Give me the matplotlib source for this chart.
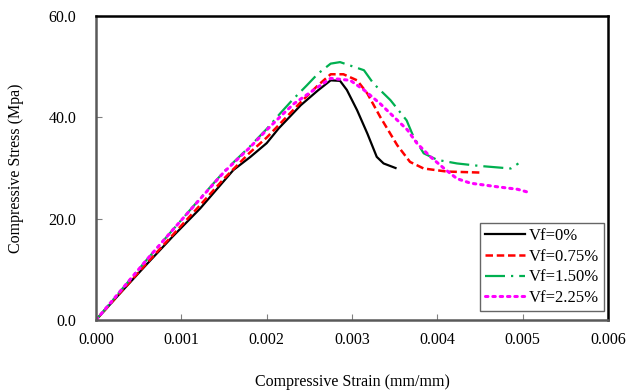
import matplotlib
matplotlib.use("Agg")
import matplotlib.pyplot as plt

plt.rcParams['font.family'] = ['Liberation Serif', 'DejaVu Serif']

labels = ["Vf=0%", "Vf=0.75%", "Vf=1.50%", "Vf=2.25%"]

strain_0 = [0.0, 0.0003, 0.0006, 0.0009, 0.00122, 0.00161, 0.00181, 0.0020, 0.00214, 0.0024, 0.0026,
            0.00275, 0.00286, 0.00294, 0.00306, 0.00318, 0.00329, 0.00337, 0.00351]
stress_0 = [0.0, 5.6, 11.1, 16.5, 22.0, 29.6, 32.2, 34.9, 37.8, 42.4, 45.3,
            47.3, 47.2, 45.4, 41.4, 36.8, 32.2, 30.9, 30.0]

strain_1 = [0.0, 0.0003, 0.0006, 0.0009, 0.0012, 0.0015, 0.0018, 0.0020, 0.0022, 0.0024, 0.0026,
            0.00275, 0.0029, 0.00306, 0.00318, 0.00333, 0.00353, 0.00368, 0.00384, 0.00411, 0.0045]
stress_1 = [0.0, 5.7, 11.3, 16.8, 22.3, 27.9, 33.0, 36.0, 39.5, 43.0, 46.3,
            48.5, 48.5, 47.3, 44.7, 40.1, 34.5, 31.2, 29.9, 29.3, 29.1]

strain_2 = [0.0, 0.0003, 0.0006, 0.0009, 0.0012, 0.0015, 0.0018, 0.0020, 0.00216, 0.0023, 0.00247,
            0.0026, 0.00275, 0.00286, 0.00314, 0.00325, 0.00345, 0.00364, 0.00372, 0.00384, 0.0040,
            0.00423, 0.0045, 0.00486, 0.00495]
stress_2 = [0.0, 6.0, 12.0, 17.8, 23.6, 29.3, 34.2, 37.7, 40.8, 43.4, 46.3,
            48.6, 50.6, 50.9, 49.3, 46.7, 43.4, 39.4, 36.2, 32.9, 31.6,
            30.9, 30.4, 29.9, 30.9]

strain_3 = [0.0, 0.0003, 0.0006, 0.0009, 0.0012, 0.0015, 0.0018, 0.0020, 0.0022, 0.00232, 0.00263,
            0.00275, 0.00298, 0.00314, 0.00333, 0.00349, 0.00365, 0.00376, 0.00392, 0.00408, 0.00423,
            0.00439, 0.0047, 0.00494, 0.00509]
stress_3 = [0.0, 6.0, 12.0, 17.8, 23.5, 29.2, 34.0, 37.5, 40.8, 42.7, 46.3,
            47.7, 47.3, 45.4, 42.7, 40.1, 37.5, 34.9, 32.2, 29.9, 27.9,
            27.0, 26.3, 25.8, 25.1]

xticks = [0.000, 0.001, 0.002, 0.003, 0.004, 0.005, 0.006]
yticks = [0.0, 20.0, 40.0, 60.0]

fig = plt.figure(figsize=(6.28, 3.91), dpi=100)
ax = fig.add_axes([96/628, 1 - 320/391, (608-96)/628, (320-16)/391])

ax.plot(strain_0, stress_0, color='black', lw=1.6, ls='-', label=labels[0])
ax.plot(strain_1, stress_1, color='#ff0000', lw=1.8, ls=(0, (3, 1.5)), label=labels[1])
ax.plot(strain_2, stress_2, color='#00b050', lw=1.6, ls=(0, (9, 2.7, 1, 2.7)), label=labels[2])
ax.plot(strain_3, stress_3, color='#ff00ff', lw=2.2, ls=(0, (0.8, 1.6)), dash_capstyle='round', label=labels[3])

ax.set_xlim(0, 0.006)
ax.set_ylim(0, 60)
ax.set_xticks(xticks)
ax.set_xticklabels([f"{v:.3f}" for v in xticks])
ax.set_yticks(yticks)
ax.set_yticklabels([f"{v:.1f}" for v in yticks])
ax.tick_params(direction='in', length=4, width=0.8, colors='#808080', labelcolor='black', labelsize=11.5)
ax.tick_params(axis='x', pad=9)
ax.tick_params(axis='y', pad=14)

for s in ['left', 'bottom']:
    ax.spines[s].set_color('#595959')
    ax.spines[s].set_linewidth(1.8)
for s in ['top', 'right']:
    ax.spines[s].set_color('black')
    ax.spines[s].set_linewidth(1.8)

ax.set_xlabel("Compressive Strain (mm/mm)", fontsize=11.5, labelpad=18)
ax.set_ylabel("Compressive Stress (Mpa)", fontsize=11.5, labelpad=18)

leg = ax.legend(loc='lower right', bbox_to_anchor=(604/628, 1 - 311/391), bbox_transform=fig.transFigure,
                fontsize=12, frameon=True, fancybox=False, handlelength=2.4, handletextpad=0.2,
                borderpad=0.3, labelspacing=0.28, borderaxespad=0)
leg.get_frame().set_edgecolor('#404040')
leg.get_frame().set_linewidth(1.0)

fig.savefig("out.png", dpi=100)
